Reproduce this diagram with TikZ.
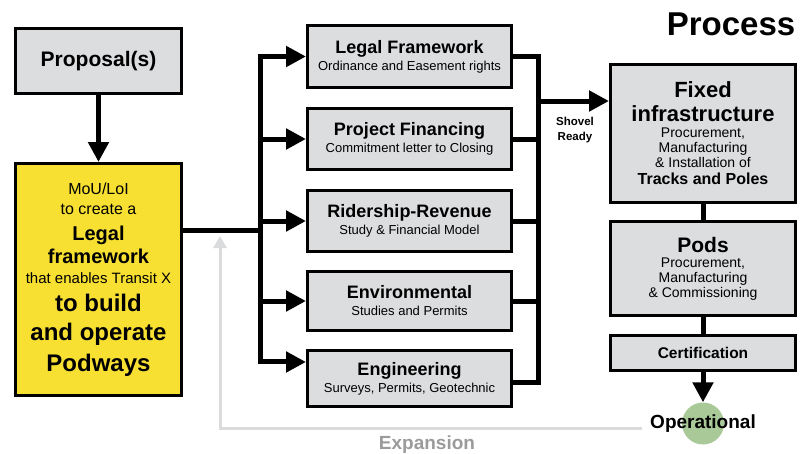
\documentclass[tikz,border=0pt]{standalone}
\usepackage{fontspec}
\setmainfont{Liberation Sans}
\usetikzlibrary{arrows.meta,calc,positioning}

\definecolor{BoxGrey}{HTML}{DCDDDF}
\definecolor{LawYellow}{HTML}{F8E033}
\definecolor{LiveGreen}{HTML}{A9C998}
\definecolor{LoopGrey}{HTML}{DADBDC}
\definecolor{LoopText}{HTML}{9B9B9B}

\newcommand{\sz}[2]{\fontsize{#1}{#2}\selectfont}
\newcommand{\headline}[1]{{\bfseries\sz{18}{18}#1}}

\begin{document}
\begin{tikzpicture}[x=1pt, y=-1pt,
    box/.style={draw, line width=3pt, fill=BoxGrey, inner sep=0pt, align=center},
    midbox/.style={box, minimum width=204pt, font=\sz{13}{17}},
    wire/.style={line width=5pt},
    flow/.style={wire, -{Triangle[length=20pt,width=20pt]}},
    loop/.style={draw=LoopGrey, line width=3pt, -{Triangle[length=12pt,width=13pt]}}
]

    \useasboundingbox (0,0) rectangle (809,453);

    % left column
    \node[box, minimum width=166pt, minimum height=65pt, font=\sz{21}{21}\bfseries]
        (proposal) at (98.5,61) {Proposal(s)};
    \node[box, fill=LawYellow, minimum width=166pt, minimum height=232pt, font=\sz{16}{20}]
        (law) at (98.5,279.5) {MoU/LoI\\
        to create a\\[6pt]
        {\bfseries\sz{20}{20}Legal}\\[3pt]
        {\bfseries\sz{20}{20}framework}\\
        {\sz{15}{15}that enables Transit X}\\[8pt]
        {\bfseries\sz{24}{24}to build}\\[9pt]
        {\bfseries\sz{24}{24}and operate}\\[8pt]
        {\bfseries\sz{24}{24}Podways}};
    \draw[flow] (proposal) -- (law);

    % studies
    \node[midbox, minimum height=62pt] (legal) at (409.5,56.5)
        {\headline{Legal Framework}\\Ordinance and Easement rights};
    \node[midbox, minimum height=61pt] (financing) at (409.5,139)
        {\headline{Project Financing}\\Commitment letter to Closing};
    \node[midbox, minimum height=61pt] (ridership) at (409.5,221)
        {\headline{Ridership-Revenue}\\Study \& Financial Model};
    \node[midbox, minimum height=59pt] (environ) at (409.5,301)
        {\headline{Environmental}\\Studies and Permits};
    \node[midbox, minimum height=56pt] (engineering) at (409.5,378.5)
        {\headline{Engineering}\\Surveys, Permits, Geotechnic};

    \coordinate (busleft) at (260,0);
    \coordinate (busright) at (538,0);
    \coordinate (lawout) at ($(law.north east)!.29!(law.south east)$);
    \coordinate (split) at (lawout -| busleft);
    \coordinate (enginein) at ($(engineering.north west)!.22!(engineering.south west)$);
    \coordinate (engineout) at ($(engineering.north east)!.56!(engineering.south east)$);

    \draw[wire] (lawout) -- (split);
    \draw[flow] (split) |- (legal.west);
    \draw[flow] (split) |- (enginein);
    \draw[flow] (split |- financing) -- (financing);
    \draw[flow] (split |- ridership) -- (ridership);
    \draw[flow] (split |- environ) -- (environ);

    \draw[wire] (legal.east) -| (busright |- engineout) -- (engineout);
    \draw[wire] (financing.east) -- (financing.east -| busright);
    \draw[wire] (ridership.east) -- (ridership.east -| busright);
    \draw[wire] (environ.east) -- (environ.east -| busright);

    % build-out
    \node[box, minimum width=185pt, minimum height=138pt, font=\sz{14}{15}]
        (fixed) at (703,133.5) {{\bfseries\sz{22}{22}Fixed}\\[7pt]
        {\bfseries\sz{22}{22}infrastructure}\\[1pt]
        Procurement,\\
        Manufacturing\\
        \& Installation of\\[2pt]
        {\bfseries\sz{16}{16}Tracks and Poles}};
    \node[box, minimum width=185pt, minimum height=94pt, font=\sz{14}{15}]
        (pods) at (703,268.5) {{\bfseries\sz{21}{21}Pods}\\
        Procurement,\\
        Manufacturing\\
        \& Commissioning};
    \node[box, minimum width=185pt, minimum height=35pt, font=\sz{15.5}{15.5}\bfseries]
        (cert) at (703,353) {Certification};
    \node[circle, fill=LiveGreen, minimum size=42pt, inner sep=0pt] (live) at (703,423.5) {};
    \node[font=\sz{19}{19}\bfseries] (oplabel) at (703,424) {Operational};

    \coordinate (readyout) at (538,101);
    \draw[flow] (readyout) -- (readyout -| fixed.west);
    \node[font=\sz{11.5}{15}\bfseries, align=center] (ready) at (575,130) {Shovel\\Ready};

    \draw[wire] (fixed) -- (pods);
    \draw[wire] (pods) -- (cert);
    \draw[flow] (cert) -- (live);

    % expansion loop
    \coordinate (loopstart) at ($(oplabel.west)+(-5,4)$);
    \coordinate (loopend) at (220,236);
    \draw[loop] (loopstart) -| (loopend);
    \node[font=\sz{19}{19}\bfseries, text=LoopText] (expansion) at (427,445) {Expansion};

    \node[font=\sz{33}{33}\bfseries] (title) at (731,24) {Process};

\end{tikzpicture}
\end{document}
